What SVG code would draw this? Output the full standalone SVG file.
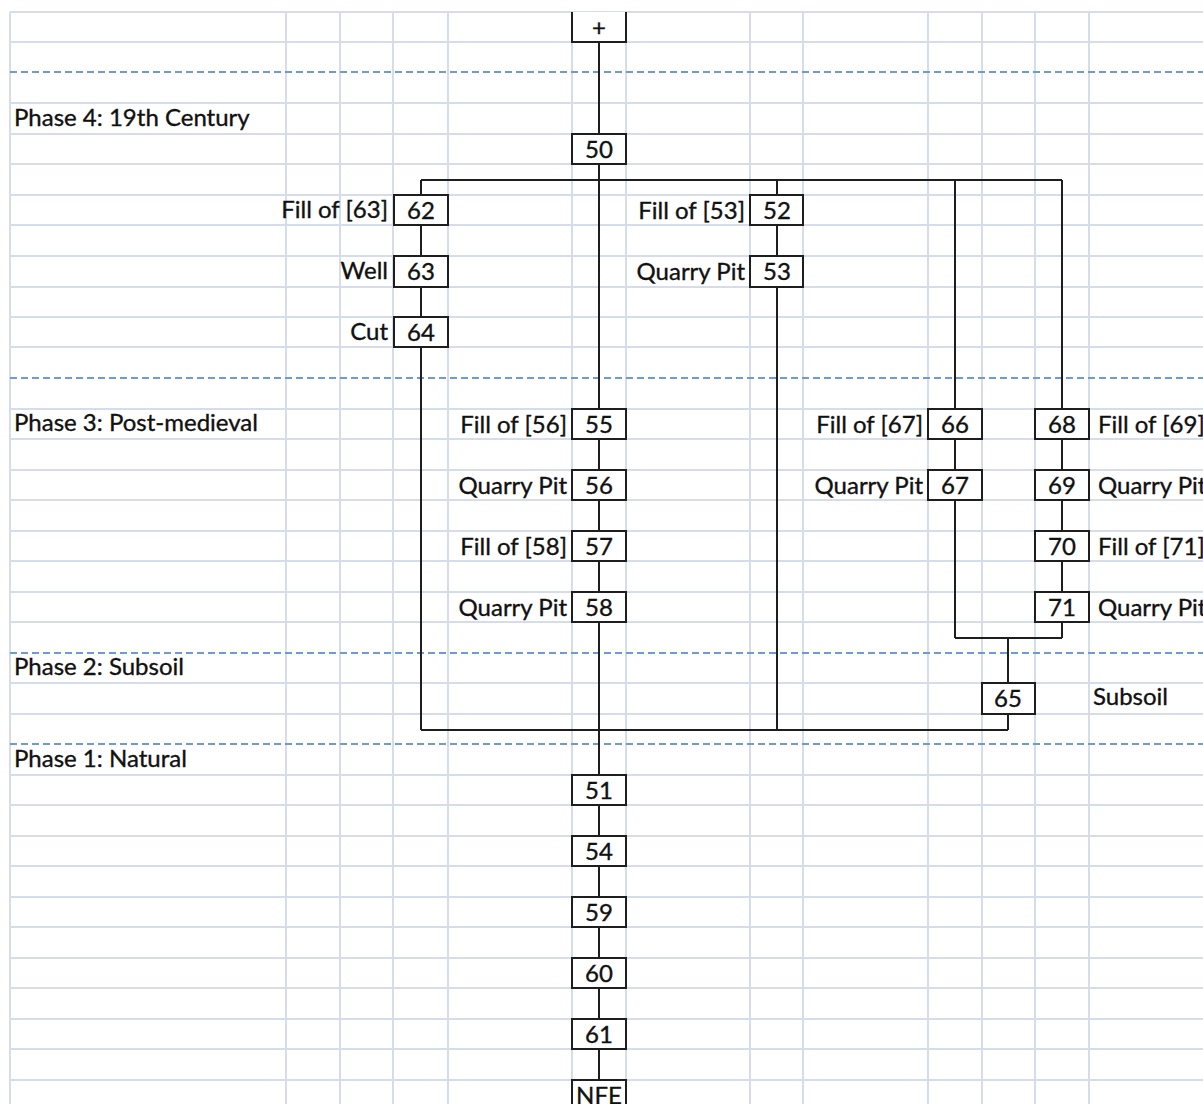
<svg xmlns="http://www.w3.org/2000/svg" width="1203" height="1104" viewBox="0 0 1203 1104">
  <style>
    .grid line { stroke: #d6dce9; stroke-width: 2; }
    .phase-rule { stroke: #6f9bd4; stroke-width: 2; stroke-dasharray: 7 4; }
    .box { fill: #ffffff; stroke: #1e1e1e; stroke-width: 2; }
    .wire { fill: none; stroke: #1e1e1e; stroke-width: 2; }
    text { font-family: Lato, "Liberation Sans", sans-serif; font-size: 24px; fill: #111111; stroke: #111111; stroke-width: 0.35; }
    .num { text-anchor: middle; }
    .lbl-l { text-anchor: end; }
    .lbl-r { text-anchor: start; }
  </style>

  <rect x="0" y="0" width="1203" height="1104" fill="#ffffff"/>

  <!-- spreadsheet grid -->
  <g id="grid" class="grid">
    <line x1="10" y1="12" x2="1203" y2="12"/>
    <line x1="10" y1="42" x2="1203" y2="42"/>
    <line x1="10" y1="103" x2="1203" y2="103"/>
    <line x1="10" y1="134" x2="1203" y2="134"/>
    <line x1="10" y1="164" x2="1203" y2="164"/>
    <line x1="10" y1="195" x2="1203" y2="195"/>
    <line x1="10" y1="225" x2="1203" y2="225"/>
    <line x1="10" y1="256" x2="1203" y2="256"/>
    <line x1="10" y1="287" x2="1203" y2="287"/>
    <line x1="10" y1="317" x2="1203" y2="317"/>
    <line x1="10" y1="347" x2="1203" y2="347"/>
    <line x1="10" y1="409" x2="1203" y2="409"/>
    <line x1="10" y1="439" x2="1203" y2="439"/>
    <line x1="10" y1="470" x2="1203" y2="470"/>
    <line x1="10" y1="500" x2="1203" y2="500"/>
    <line x1="10" y1="531" x2="1203" y2="531"/>
    <line x1="10" y1="561" x2="1203" y2="561"/>
    <line x1="10" y1="592" x2="1203" y2="592"/>
    <line x1="10" y1="622" x2="1203" y2="622"/>
    <line x1="10" y1="683" x2="1203" y2="683"/>
    <line x1="10" y1="714" x2="1203" y2="714"/>
    <line x1="10" y1="775" x2="1203" y2="775"/>
    <line x1="10" y1="805" x2="1203" y2="805"/>
    <line x1="10" y1="836" x2="1203" y2="836"/>
    <line x1="10" y1="866" x2="1203" y2="866"/>
    <line x1="10" y1="897" x2="1203" y2="897"/>
    <line x1="10" y1="927" x2="1203" y2="927"/>
    <line x1="10" y1="958" x2="1203" y2="958"/>
    <line x1="10" y1="988" x2="1203" y2="988"/>
    <line x1="10" y1="1019" x2="1203" y2="1019"/>
    <line x1="10" y1="1049" x2="1203" y2="1049"/>
    <line x1="10" y1="1080" x2="1203" y2="1080"/>
    <line x1="10" y1="12" x2="10" y2="1104"/>
    <line x1="286" y1="12" x2="286" y2="1104"/>
    <line x1="340" y1="12" x2="340" y2="1104"/>
    <line x1="393" y1="12" x2="393" y2="1104"/>
    <line x1="448" y1="12" x2="448" y2="1104"/>
    <line x1="572" y1="12" x2="572" y2="1104"/>
    <line x1="626" y1="12" x2="626" y2="1104"/>
    <line x1="750" y1="12" x2="750" y2="1104"/>
    <line x1="803" y1="12" x2="803" y2="1104"/>
    <line x1="928" y1="12" x2="928" y2="1104"/>
    <line x1="982" y1="12" x2="982" y2="1104"/>
    <line x1="1035" y1="12" x2="1035" y2="1104"/>
    <line x1="1089" y1="12" x2="1089" y2="1104"/>
  </g>

  <!-- phase boundaries -->
  <g id="phase-rules">
    <line class="phase-rule" x1="10" y1="72" x2="1203" y2="72"/>
    <line class="phase-rule" x1="10" y1="378" x2="1203" y2="378"/>
    <line class="phase-rule" x1="10" y1="653" x2="1203" y2="653"/>
    <line class="phase-rule" x1="10" y1="744" x2="1203" y2="744"/>
  </g>

  <g id="phase-labels">
    <text x="14" y="126">Phase 4: 19th Century</text>
    <text x="14" y="431">Phase 3: Post-medieval</text>
    <text x="14" y="675">Phase 2: Subsoil</text>
    <text x="14" y="767">Phase 1: Natural</text>
  </g>

  <!-- stratigraphic links -->
  <g id="connectors" class="wire">
    <path d="M599 42V134M599 164V409M599 439V470M599 500V531M599 561V592M599 622V775M599 805V836M599 866V897M599 927V958M599 988V1019M599 1049V1080"/>
    <path d="M421 180H1062"/>
    <path d="M421 180V195M421 225V256M421 287V317M421 347V730"/>
    <path d="M777 180V195M777 225V256M777 287V730"/>
    <path d="M955 180V409M955 439V470M955 500V638"/>
    <path d="M1062 180V409M1062 439V470M1062 500V531M1062 561V592M1062 622V638"/>
    <path d="M955 638H1062M1008 638V683M1008 714V730"/>
    <path d="M421 730H1008"/>
  </g>

  <!-- contexts -->
  <g id="node-top">
    <path class="box" d="M572 12V42H626V12"/>
    <text class="num" x="599" y="36">+</text>
  </g>
  <g id="node-50">
    <rect class="box" x="572" y="134" width="54" height="30"/>
    <text class="num" x="599" y="158">50</text>
  </g>
  <g id="node-62">
    <rect class="box" x="394" y="195" width="54" height="30"/>
    <text class="num" x="421" y="219">62</text>
    <text class="lbl-l" x="388" y="218">Fill of [63]</text>
  </g>
  <g id="node-63">
    <rect class="box" x="394" y="256" width="54" height="31"/>
    <text class="num" x="421" y="280">63</text>
    <text class="lbl-l" x="388" y="279">Well</text>
  </g>
  <g id="node-64">
    <rect class="box" x="394" y="317" width="54" height="30"/>
    <text class="num" x="421" y="341">64</text>
    <text class="lbl-l" x="388" y="340">Cut</text>
  </g>
  <g id="node-52">
    <rect class="box" x="750" y="195" width="53" height="30"/>
    <text class="num" x="777" y="219">52</text>
    <text class="lbl-l" x="745" y="219">Fill of [53]</text>
  </g>
  <g id="node-53">
    <rect class="box" x="750" y="256" width="53" height="31"/>
    <text class="num" x="777" y="280">53</text>
    <text class="lbl-l" x="745" y="280">Quarry Pit</text>
  </g>
  <g id="node-55">
    <rect class="box" x="572" y="409" width="54" height="30"/>
    <text class="num" x="599" y="433">55</text>
    <text class="lbl-l" x="567" y="433">Fill of [56]</text>
  </g>
  <g id="node-56">
    <rect class="box" x="572" y="470" width="54" height="30"/>
    <text class="num" x="599" y="494">56</text>
    <text class="lbl-l" x="567" y="494">Quarry Pit</text>
  </g>
  <g id="node-57">
    <rect class="box" x="572" y="531" width="54" height="30"/>
    <text class="num" x="599" y="555">57</text>
    <text class="lbl-l" x="567" y="555">Fill of [58]</text>
  </g>
  <g id="node-58">
    <rect class="box" x="572" y="592" width="54" height="30"/>
    <text class="num" x="599" y="616">58</text>
    <text class="lbl-l" x="567" y="616">Quarry Pit</text>
  </g>
  <g id="node-66">
    <rect class="box" x="928" y="409" width="54" height="30"/>
    <text class="num" x="955" y="433">66</text>
    <text class="lbl-l" x="923" y="433">Fill of [67]</text>
  </g>
  <g id="node-67">
    <rect class="box" x="928" y="470" width="54" height="30"/>
    <text class="num" x="955" y="494">67</text>
    <text class="lbl-l" x="923" y="494">Quarry Pit</text>
  </g>
  <g id="node-68">
    <rect class="box" x="1035" y="409" width="54" height="30"/>
    <text class="num" x="1062" y="433">68</text>
    <text class="lbl-r" x="1098" y="433">Fill of [69]</text>
  </g>
  <g id="node-69">
    <rect class="box" x="1035" y="470" width="54" height="30"/>
    <text class="num" x="1062" y="494">69</text>
    <text class="lbl-r" x="1098" y="494">Quarry Pit</text>
  </g>
  <g id="node-70">
    <rect class="box" x="1035" y="531" width="54" height="30"/>
    <text class="num" x="1062" y="555">70</text>
    <text class="lbl-r" x="1098" y="555">Fill of [71]</text>
  </g>
  <g id="node-71">
    <rect class="box" x="1035" y="592" width="54" height="30"/>
    <text class="num" x="1062" y="616">71</text>
    <text class="lbl-r" x="1098" y="616">Quarry Pit</text>
  </g>
  <g id="node-65">
    <rect class="box" x="982" y="683" width="53" height="31"/>
    <text class="num" x="1008" y="707">65</text>
    <text class="lbl-r" x="1093" y="705">Subsoil</text>
  </g>
  <g id="node-51">
    <rect class="box" x="572" y="775" width="54" height="30"/>
    <text class="num" x="599" y="799">51</text>
  </g>
  <g id="node-54">
    <rect class="box" x="572" y="836" width="54" height="30"/>
    <text class="num" x="599" y="860">54</text>
  </g>
  <g id="node-59">
    <rect class="box" x="572" y="897" width="54" height="30"/>
    <text class="num" x="599" y="921">59</text>
  </g>
  <g id="node-60">
    <rect class="box" x="572" y="958" width="54" height="30"/>
    <text class="num" x="599" y="982">60</text>
  </g>
  <g id="node-61">
    <rect class="box" x="572" y="1019" width="54" height="30"/>
    <text class="num" x="599" y="1043">61</text>
  </g>
  <g id="node-nfe">
    <path class="box" d="M572 1104V1080H626V1104"/>
    <text class="num" x="599" y="1104">NFE</text>
  </g>
</svg>
